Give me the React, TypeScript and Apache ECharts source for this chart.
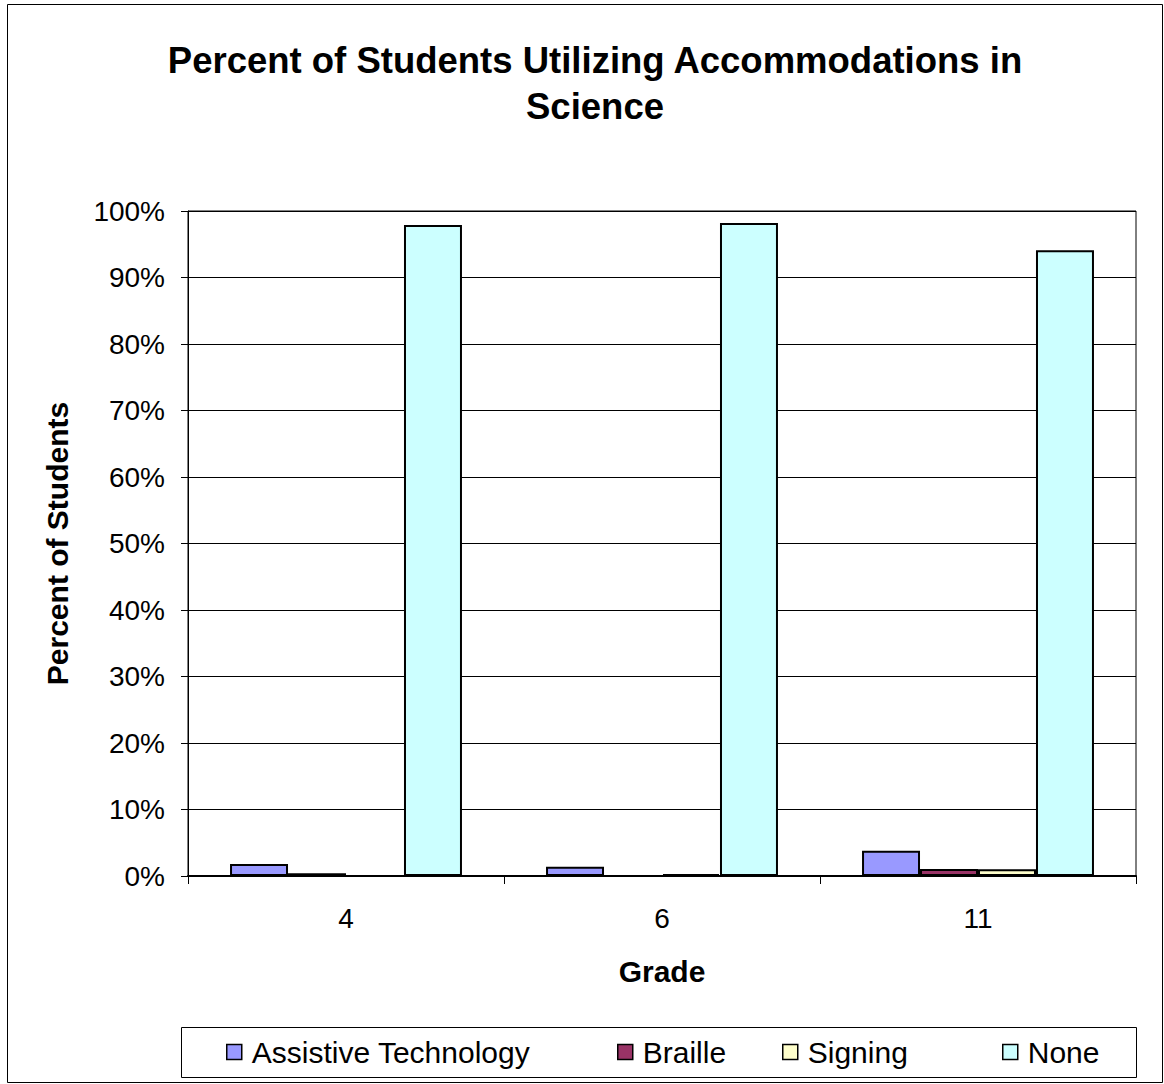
import React, { useEffect, useRef } from "react";
import * as echarts from "echarts";

const categories = ["4", "6", "11"];
const seriesNames = ["Assistive Technology", "Braille", "Signing", "None"];
const assistive = [1.8, 1.4, 3.8];
const braille = [0.4, 0.0, 1.05];
const signing = [0.0, 0.3, 1.0];
const none = [97.9, 98.2, 94.1];
const colors = ["#9999FF", "#993366", "#FFFFCC", "#CCFFFF"];
const legendLefts = [226, 617, 782, 1002];
const titleLines = ["Percent of Students Utilizing Accommodations in", "Science"];

export default function App() {
  const ref = useRef<HTMLDivElement>(null);
  useEffect(() => {
    document.body.style.margin = "0";
    const chart = echarts.init(ref.current!, null, { renderer: "svg" });
    const font = "'Liberation Sans', Arial, sans-serif";
    const values = [assistive, braille, signing, none];
    chart.setOption({
      animation: false,
      backgroundColor: "#ffffff",
      textStyle: { fontFamily: font, color: "#000" },
      legend: seriesNames.map((n, i) => ({
        data: [n],
        left: legendLefts[i],
        top: 1037,
        padding: 0,
        icon: "rect",
        itemWidth: 15,
        itemHeight: 15,
        itemGap: 10,
        itemStyle: { borderColor: "#000", borderWidth: 1.5 },
        textStyle: { fontFamily: font, fontSize: 30, color: "#000", padding: [0, 0, 0, 5] },
        selectedMode: false,
      })),
      graphic: [
        {
          type: "rect",
          shape: { x: 7.5, y: 4.5, width: 1155, height: 1078 },
          style: { fill: "none", stroke: "#000", lineWidth: 1 },
          silent: true,
        },
        {
          type: "rect",
          shape: { x: 181.5, y: 1027.5, width: 955, height: 50 },
          style: { fill: "none", stroke: "#000", lineWidth: 1 },
          silent: true,
        },
        ...titleLines.map((t, i) => ({
          type: "text",
          x: 595,
          y: 60 + i * 46,
          style: {
            text: t,
            font: `bold 36.5px ${font}`,
            fill: "#000",
            textAlign: "center",
            textVerticalAlign: "middle",
          },
          silent: true,
        })),
      ],
      grid: {
        left: 188,
        right: 28,
        top: 211,
        bottom: 208,
        show: true,
        borderColor: "#000",
        borderWidth: 1,
      },
      xAxis: {
        type: "category",
        data: categories,
        name: "Grade",
        nameLocation: "middle",
        nameGap: 80,
        nameTextStyle: { fontFamily: font, fontSize: 30, fontWeight: "bold", color: "#000" },
        axisLine: { lineStyle: { color: "#000", width: 2 } },
        axisTick: { show: true, length: 8, lineStyle: { color: "#000" } },
        axisLabel: { fontFamily: font, fontSize: 28, color: "#000", margin: 28 },
      },
      yAxis: {
        type: "value",
        min: 0,
        max: 100,
        interval: 10,
        name: "Percent of Students",
        nameLocation: "middle",
        nameGap: 116,
        nameTextStyle: { fontFamily: font, fontSize: 30, fontWeight: "bold", color: "#000" },
        axisLine: { show: true, lineStyle: { color: "#000", width: 1 } },
        axisTick: { show: true, length: 7, lineStyle: { color: "#000" } },
        axisLabel: { fontFamily: font, fontSize: 28, color: "#000", margin: 23, formatter: "{value}%" },
        splitLine: { show: true, lineStyle: { color: "#000", width: 1 } },
      },
      series: seriesNames.map((n, i) => ({
        name: n,
        type: "bar",
        data: values[i],
        barGap: "0%",
        barCategoryGap: "26.6%",
        itemStyle: { color: colors[i], borderColor: "#000", borderWidth: 2 },
      })),
    });
    return () => chart.dispose();
  }, []);
  return <div ref={ref} style={{ width: 1164, height: 1084 }} />;
}
